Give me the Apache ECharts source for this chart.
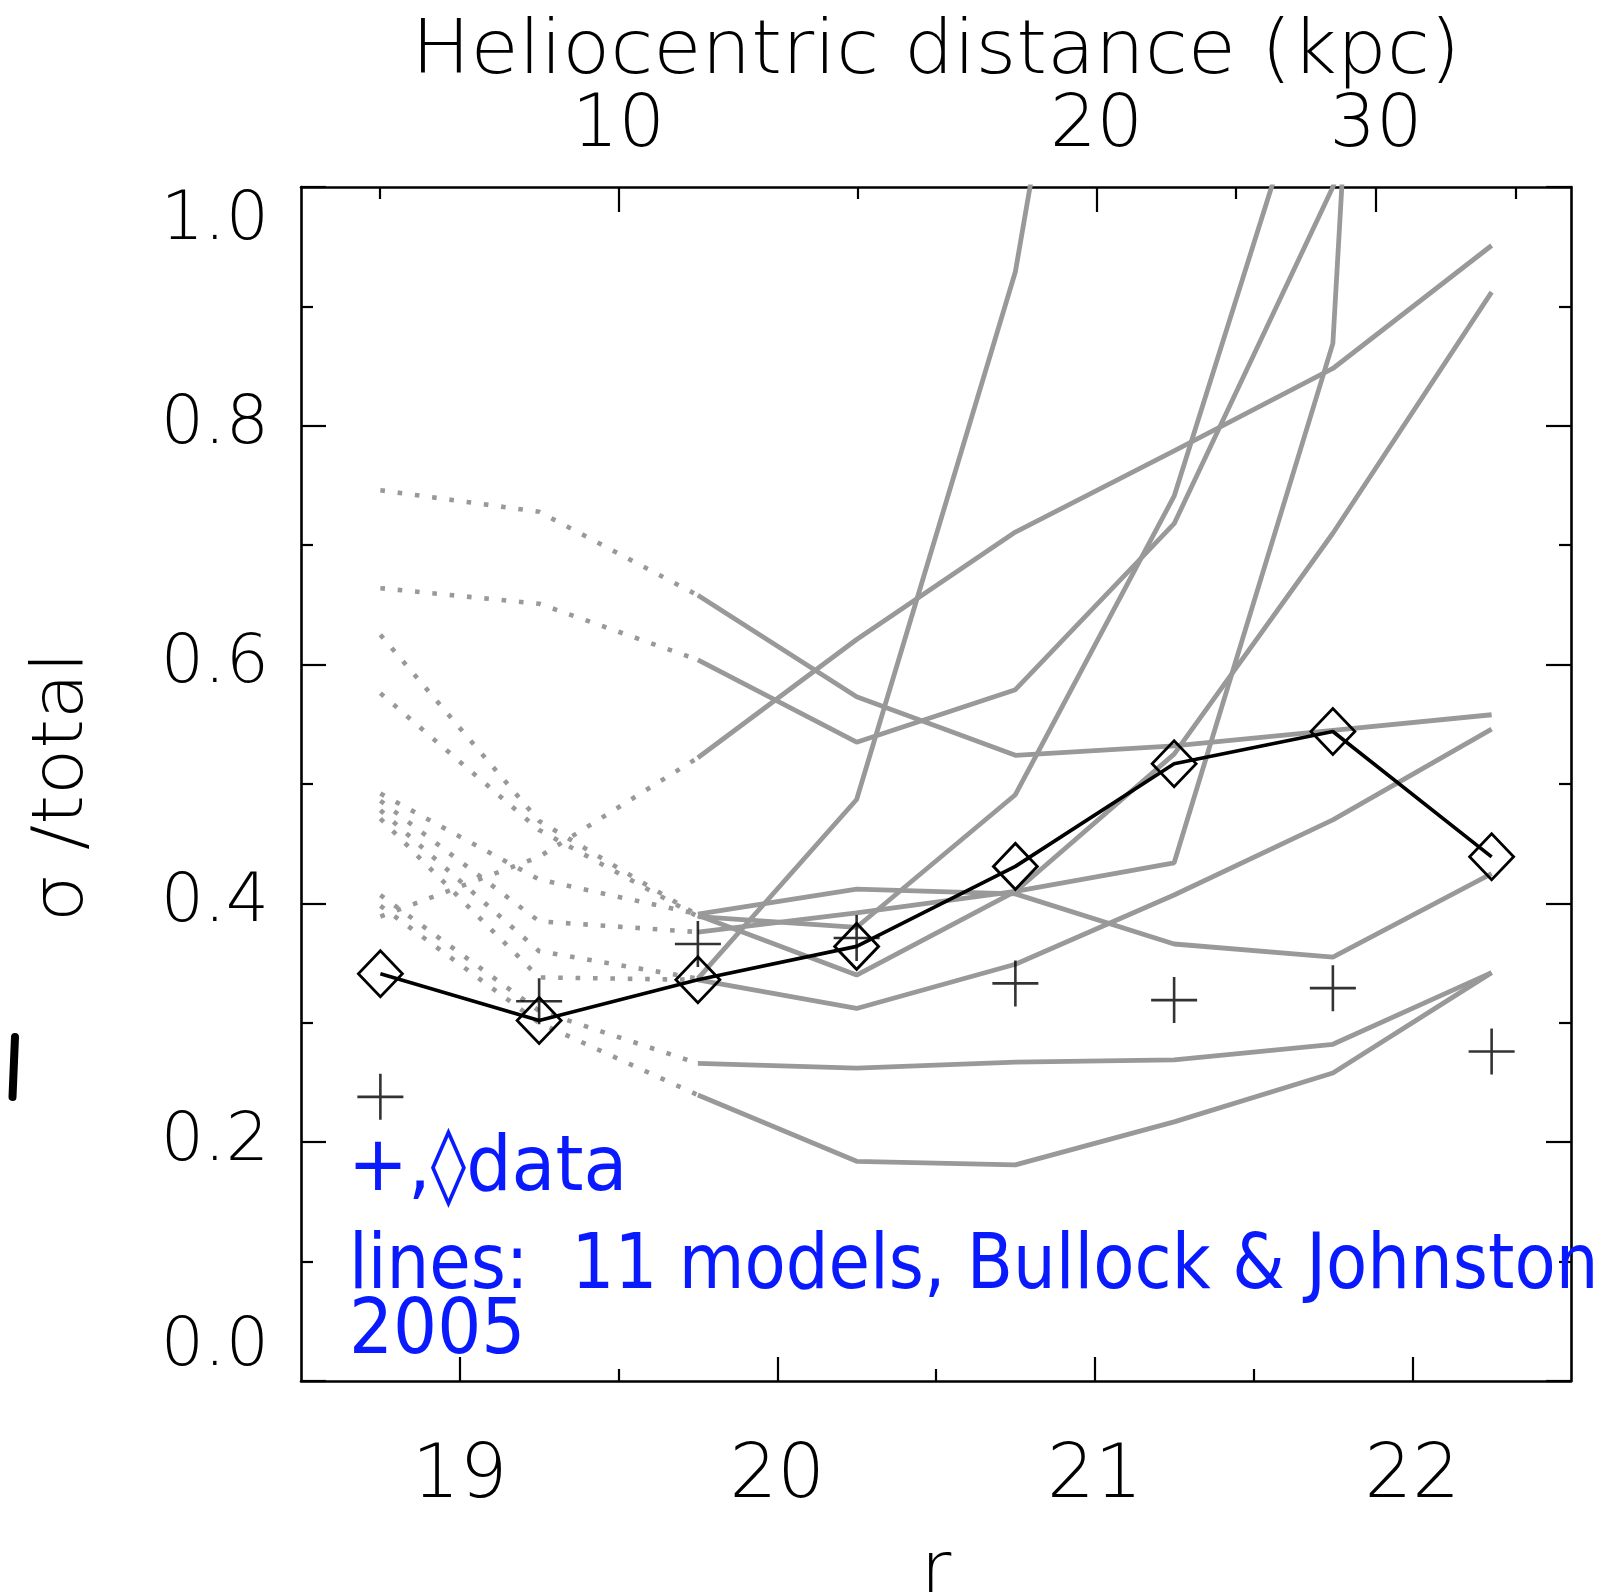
<!DOCTYPE html>
<html>
<head>
<meta charset="utf-8">
<title>sigma / total vs r</title>
<script src="https://cdn.jsdelivr.net/npm/echarts@6/dist/echarts.min.js"></script>
<style>
  html, body { margin: 0; padding: 0; background: #ffffff; }
  #chart { width: 1610px; height: 1592px; }
</style>
</head>
<body>
<div id="chart"></div>
<script>
// r-band magnitude bins shared by every series
const rMag = [18.75, 19.25, 19.75, 20.25, 20.75, 21.25, 21.75, 22.25];

// observed fractions
const dataPlus    = [0.238, 0.318, 0.366, 0.371, 0.333, 0.319, 0.329, 0.276];
const dataDiamond = [0.341, 0.302, 0.336, 0.364, 0.431, 0.517, 0.544, 0.439];

// Bullock & Johnston (2005) halo models (values above 1 leave the frame)
const model01 = [0.746, 0.728, 0.658, 0.573, 0.524, 0.532, 0.545, 0.558];
const model02 = [0.664, 0.651, 0.604, 0.535, 0.579, 0.718, 1.000, 1.400];
const model03 = [0.486, 0.385, 0.376, 0.392, 0.410, 0.434, 0.869, 3.200];
const model04 = [0.478, 0.360, 0.337, 0.487, 0.929, 1.700, 2.300, 2.800];
const model05 = [0.389, 0.439, 0.522, 0.621, 0.711, 0.779, 0.848, 0.951];
const model06 = [0.625, 0.469, 0.390, 0.340, 0.410, 0.525, 0.710, 0.912];
const model07 = [0.471, 0.338, 0.336, 0.312, 0.349, 0.407, 0.470, 0.546];
const model08 = [0.492, 0.420, 0.391, 0.412, 0.408, 0.366, 0.355, 0.425];
const model09 = [0.407, 0.310, 0.266, 0.262, 0.267, 0.269, 0.282, 0.342];
const model10 = [0.398, 0.300, 0.2395, 0.184, 0.181, 0.217, 0.258, 0.342];
const model11 = [0.576, 0.4615, 0.389, 0.380, 0.491, 0.741, 1.163, 1.500];
const models = [model01, model02, model03, model04, model05, model06,
                model07, model08, model09, model10, model11];

// bins before this index are drawn dotted, from here on solid
const SOLID_FROM = 2;

// axis ticks
const xMajor = [19, 20, 21, 22];
const xMinor = [19.5, 20.5, 21.5];
const kpcTicks = [10, 20, 30];          // heliocentric distance labels (kpc)
const ABS_MAG = 4.5;                     // absolute magnitude used for the distance scale

const FONT = "'DejaVu Sans', sans-serif";
const GRAY = '#999999';
const BLUE = '#0a1aff';

// distance (kpc) -> apparent magnitude r
const rFromKpc = d => ABS_MAG + 5 * Math.log10(d * 1000) - 5;
const kpcFromR = r => Math.pow(10, (r - ABS_MAG + 5) / 5) / 1000;

const topMajor = kpcTicks.map(rFromKpc);
const topMinor = [];
topMinor.push(topMajor[0] - (topMajor[1] - topMajor[0]) / 2);
for (let i = 0; i < topMajor.length - 1; i++) topMinor.push((topMajor[i] + topMajor[i + 1]) / 2);
topMinor.push(topMajor[topMajor.length - 1] + (topMajor[topMajor.length - 1] - topMajor[topMajor.length - 2]) / 2);

const tickStyle = { color: '#000', width: 2.2 };
const axisLineStyle = { color: '#000', width: 2.6 };
const labelBase = { color: '#000', fontFamily: FONT, fontWeight: 200 };

function xAxisDef(position, ticks, len, showLine, label) {
  return {
    type: 'value', position: position, min: 18.5, max: 22.5,
    axisLine: { show: showLine, onZero: false, lineStyle: axisLineStyle },
    axisTick: { show: true, inside: true, length: len, customValues: ticks, lineStyle: tickStyle },
    axisLabel: label ? Object.assign({ show: true, customValues: ticks }, label) : { show: false },
    splitLine: { show: false }, minorTick: { show: false }
  };
}

function yAxisDef(position, showLabel) {
  return {
    type: 'value', position: position, min: 0, max: 1, interval: 0.2,
    axisLine: { show: true, onZero: false, lineStyle: axisLineStyle },
    axisTick: { show: true, inside: true, length: 25, lineStyle: tickStyle },
    minorTick: { show: true, splitNumber: 2, length: 12, lineStyle: tickStyle },
    splitLine: { show: false },
    axisLabel: showLabel ? Object.assign({
      show: true, margin: 32, fontSize: 68,
      verticalAlignMinLabel: 'bottom', verticalAlignMaxLabel: 'top',
      formatter: v => v.toFixed(1)
    }, labelBase) : { show: false }
  };
}

const series = [];
models.forEach((m, i) => {
  series.push({
    name: 'model ' + (i + 1) + ' (bright)', type: 'line', symbol: 'none', silent: true, z: 2,
    data: rMag.slice(0, SOLID_FROM + 1).map((r, k) => [r, m[k]]),
    lineStyle: { color: GRAY, width: 4.6, type: [4.6, 12.8], cap: 'butt' }
  });
  series.push({
    name: 'model ' + (i + 1), type: 'line', symbol: 'none', silent: true, z: 2,
    data: rMag.slice(SOLID_FROM).map((r, k) => [r, m[k + SOLID_FROM]]),
    lineStyle: { color: GRAY, width: 4.8, type: 'solid' }
  });
});

series.push({
  name: 'data (diamond)', type: 'line', z: 5,
  data: rMag.map((r, i) => [r, dataDiamond[i]]),
  symbol: 'diamond', symbolSize: [44, 46], showAllSymbol: true,
  lineStyle: { color: '#000', width: 3.6 },
  itemStyle: { color: 'rgba(0,0,0,0)', borderColor: '#000', borderWidth: 2.8 }
});
series.push({
  name: 'data (plus)', type: 'scatter', z: 6,
  data: rMag.map((r, i) => [r, dataPlus[i]]),
  symbol: 'path://M23,0L23,46M0,23L46,23', symbolSize: 46,
  itemStyle: { color: 'rgba(0,0,0,0)', borderColor: '#000', borderWidth: 2.6 }
});

function txt(x, y, text, size, opts) {
  const o = opts || {};
  return {
    type: 'text', x: x, y: y, rotation: o.rotation || 0,
    scaleX: o.scaleX || 1, scaleY: 1, z: 10,
    style: {
      text: text, fontSize: size, fontFamily: FONT, fontWeight: o.weight || 200,
      fill: o.color || '#000',
      align: o.align || 'center', verticalAlign: 'middle',
      textAlign: o.align || 'center', textVerticalAlign: 'middle'
    }
  };
}

const option = {
  animation: false,
  backgroundColor: '#ffffff',
  grid: { left: 301, top: 187, width: 1270, height: 1194, containLabel: false, outerBoundsMode: 'none' },
  xAxis: [
    xAxisDef('bottom', xMajor, 24, true,
      Object.assign({ margin: 59, fontSize: 75, formatter: v => String(Math.round(v)) }, labelBase)),
    xAxisDef('bottom', xMinor, 12, false, null),
    xAxisDef('top', topMajor, 25, true,
      Object.assign({ margin: 23, fontSize: 73, formatter: v => String(Math.round(kpcFromR(v))) }, labelBase)),
    xAxisDef('top', topMinor, 12, false, null)
  ],
  yAxis: [ yAxisDef('left', true), yAxisDef('right', false) ],
  series: series,
  graphic: [
    txt(936, 54, 'Heliocentric distance (kpc)', 75, { scaleX: 1.045 }),
    txt(63, 787, 'σ /total', 72, { rotation: Math.PI / 2, scaleX: 1.05 }),
    txt(936, 1575, 'r', 75),
    txt(348, 1170, '+,◊data', 77, { align: 'left', color: BLUE, weight: 'normal', scaleX: 0.93 }),
    txt(349, 1268, 'lines:  11 models, Bullock & Johnston', 77, { align: 'left', color: BLUE, weight: 'normal', scaleX: 0.876 }),
    txt(349, 1333, '2005', 77, { align: 'left', color: BLUE, weight: 'normal', scaleX: 0.9 }),
    {
      type: 'line', z: 10,
      shape: { x1: 15, y1: 1037, x2: 12.5, y2: 1097 },
      style: { stroke: '#000', lineWidth: 8, lineCap: 'round' }
    }
  ]
};

const chart = echarts.init(document.getElementById('chart'), null, { renderer: 'canvas', width: 1610, height: 1592 });
chart.setOption(option);
</script>
</body>
</html>
